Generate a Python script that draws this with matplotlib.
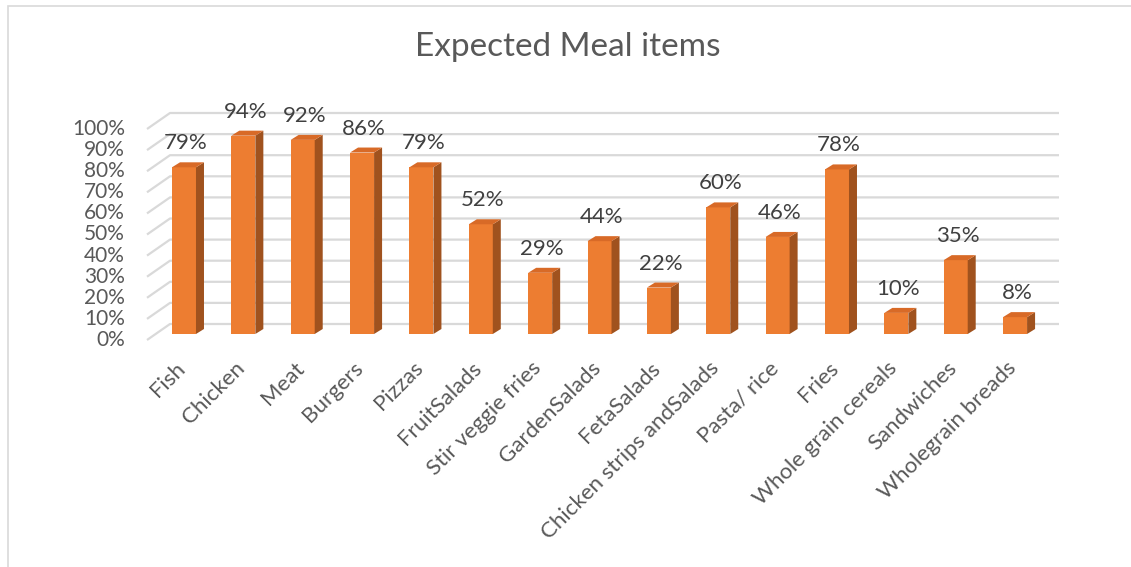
import matplotlib.pyplot as plt
from matplotlib.patches import Polygon, Rectangle

plt.rcParams['font.family'] = ['Lato', 'DejaVu Sans']

items = ['Fish', 'Chicken', 'Meat', 'Burgers', 'Pizzas', 'FruitSalads',
         'Stir veggie fries', 'GardenSalads', 'FetaSalads',
         'Chicken strips andSalads', 'Pasta/ rice', 'Fries',
         'Whole grain cereals', 'Sandwiches', 'Wholegrain breads']
share = [79, 94, 92, 86, 79, 52, 29, 44, 22, 60, 46, 78, 10, 35, 8]
yticks = [0, 10, 20, 30, 40, 50, 60, 70, 80, 90, 100]

W, H = 1131, 567
fig = plt.figure(figsize=(W / 100, H / 100), dpi=100)

# plot area: front floor at y=334px, 100% at y=123px, x from 147px to 1059px
ax = fig.add_axes([147 / W, (H - 334) / H, (1059 - 147) / W, 211 / H])
ax.set_xlim(-0.623, 14.74)
ax.set_ylim(0, 100)
ax.set_axis_off()

sx = (1059 - 147) / (14.74 + 0.623)   # px per category
sy = 211 / 100                          # px per percent

def dx(px):
    return px / sx

def dy(px):
    return px / sy

front = '#ED7D31'
side = '#A0521E'
top = '#D86A27'
grid = '#D9D9D9'
txt = '#595959'

# back wall gridlines plus the short floor diagonals on the left
x0 = ax.get_xlim()[0]
x1 = ax.get_xlim()[1]
for v in yticks:
    ax.plot([x0, x0 + dx(23), x1], [v - dy(6), v + dy(10), v + dy(10)],
            color=grid, lw=1.6, zorder=1, clip_on=False, solid_capstyle='butt')
    ax.text(x0 - dx(22), v - dy(6), f'{v}%', ha='right', va='center',
            fontsize=15, color=txt)

# 3d-looking columns
w = 24 / sx
ox, oy = dx(8), dy(5)
xs = list(range(len(items)))
ax.bar(xs, share, width=w, color=front, zorder=3)
for x, v in zip(xs, share):
    r = x + w / 2
    l = x - w / 2
    ax.add_patch(Polygon([(r, 0), (r + ox, oy), (r + ox, v + oy), (r, v)],
                         closed=True, color=side, zorder=3, lw=0))
    ax.add_patch(Polygon([(l, v), (r, v), (r + ox, v + oy), (l + ox, v + oy)],
                         closed=True, color=top, zorder=3, lw=0))
    ax.text(x + dx(2), v + dy(24), f'{v}%', ha='center', va='center',
            fontsize=16, color='#404040', zorder=4)
    ax.text(x - dx(9), -dy(24), items[x], rotation=45, rotation_mode='anchor',
            ha='right', va='top', fontsize=16, color=txt)

fig.text(568 / W, 1 - 47 / H, 'Expected Meal items', ha='center', va='center',
         fontsize=24, color=txt)

# chart frame
fig.patches.append(Rectangle((8 / W, -0.1), 1.2, 1 - 6 / H + 0.1,
                             transform=fig.transFigure, fill=False,
                             edgecolor=grid, lw=1.2))

fig.savefig('out.png', dpi=100)
